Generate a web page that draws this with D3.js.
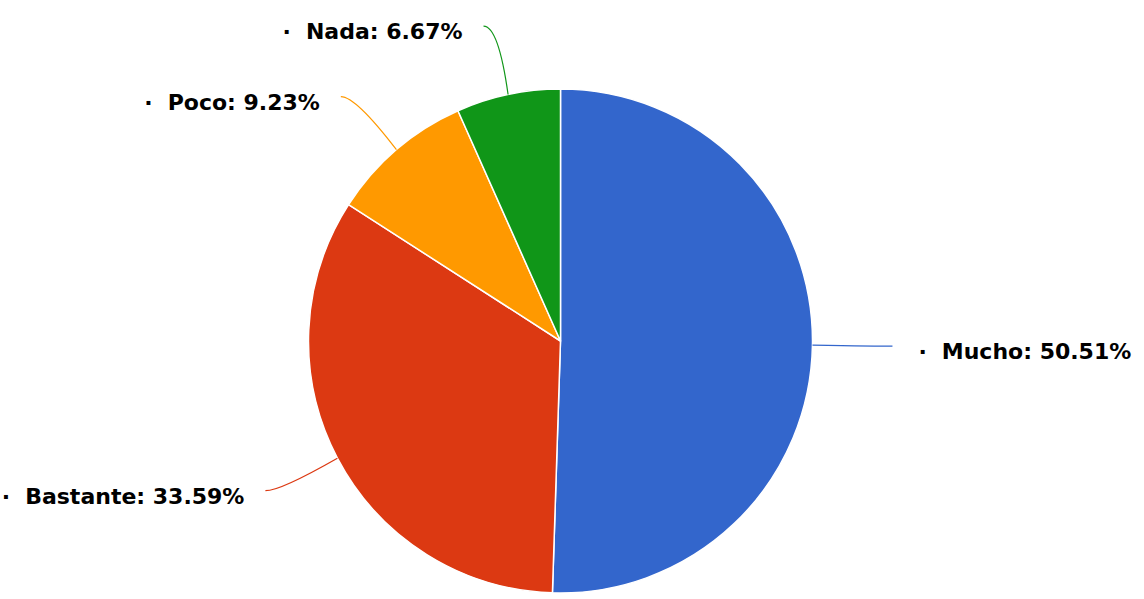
<!DOCTYPE html>
<html><head><meta charset="utf-8">
<script src="https://cdn.jsdelivr.net/npm/d3@7"></script>
<style>html,body{margin:0;padding:0;background:#fff;}svg{display:block;}</style>
</head><body>
<svg id="chart" width="1144" height="599"></svg>
<script>
const categories = ["Mucho", "Bastante", "Poco", "Nada"];
const values = [50.51, 33.59, 9.23, 6.67];
const colors = ["#3366cc", "#dc3912", "#ff9900", "#109618"];

const W = 1144, H = 599;
const cx = 560.5, cy = 341, r = 252;
const labelR = 322, endShift = 10;

const svg = d3.select("#chart");
const g = svg.append("g").attr("transform", `translate(${cx},${cy})`);

const data = categories.map((c, i) => ({name: c, value: values[i], color: colors[i]}));
const pie = d3.pie().sort(null).value(d => d.value);
const arcs = pie(data);
const arc = d3.arc().innerRadius(0).outerRadius(r);

g.selectAll("path.slice").data(arcs).enter().append("path")
  .attr("class", "slice")
  .attr("d", arc)
  .attr("fill", d => d.data.color)
  .attr("stroke", "#fff")
  .attr("stroke-width", 1.5)
  .attr("stroke-linejoin", "round");

arcs.forEach(a => {
  const mid = (a.startAngle + a.endAngle) / 2;
  const s = Math.sin(mid), c = Math.cos(mid);
  const sign = s >= 0 ? 1 : -1;
  const S = [r * s, -r * c];
  const E = [labelR * s + sign * endShift, -labelR * c];
  const C = [E[0] - sign * 15, E[1]];
  g.append("path")
    .attr("d", `M${S[0]},${S[1]}Q${C[0]},${C[1]} ${E[0]},${E[1]}`)
    .attr("fill", "none")
    .attr("stroke", a.data.color)
    .attr("stroke-width", 1.2);
  const t = g.append("text")
    .attr("x", E[0] + (sign > 0 ? 26 : -21))
    .attr("y", E[1] + 13)
    .attr("text-anchor", sign > 0 ? "start" : "end")
    .attr("font-family", "DejaVu Sans")
    .attr("font-weight", "bold")
    .attr("font-size", 22)
    .attr("fill", "#000");
  t.append("tspan").text("·");
  t.append("tspan").attr("dx", 15).text(a.data.name + ": " + a.data.value.toFixed(2) + "%");
});
</script>
</body></html>
